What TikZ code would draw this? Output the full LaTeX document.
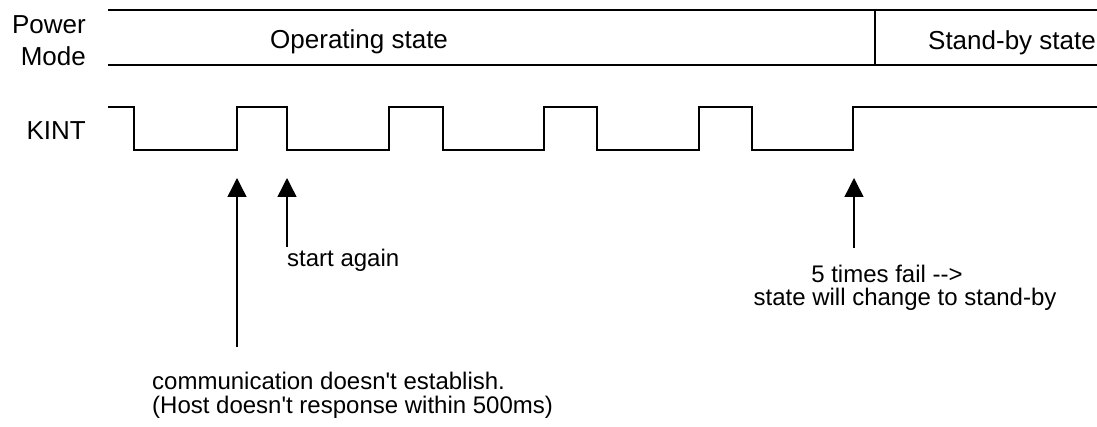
\documentclass[tikz,border=0pt]{standalone}
\usepackage{fontspec}
\setmainfont{Liberation Sans}[Ligatures=TeXOff]
\usetikzlibrary{arrows.meta}

\begin{document}
\begin{tikzpicture}[x=1pt, y=-1pt,
		lbl/.style={font=\fontsize{24}{24}\selectfont, inner sep=0pt},
		biglbl/.style={font=\fontsize{26}{32}\selectfont, inner sep=0pt},
		modeline/.style={line width=1.6pt},
		wave/.style={line width=1.4pt},
		evt/.style={line width=1.4pt, -{Triangle[width=19pt, length=19pt]}}]
					%%% Area
					\useasboundingbox (0,0) rectangle (1097,427);
					
					%%% Power mode
					\draw[modeline] (108,10) -- (1097,10);
					\draw[modeline] (108,65) -- (1097,65);
					\draw[modeline] (875,10) -- (875,65);	% cambio di stato
					\node[biglbl, align=right, anchor=east] (pm) at (86,41) {Power\\Mode};
					\node[biglbl, anchor=base west] (op) at (270,49) {Operating state};
					\node[biglbl, anchor=base east] (sb) at (1096,50) {Stand-by state};
					
					%%% KINT
					\node[biglbl, anchor=base east] (kint) at (86,140) {KINT};
					\draw[wave] (108,107) -- (134,107) -- (134,150)
						-- (237,150) -- (237,107) -- (287,107) -- (287,150)
						-- (389,150) -- (389,107) -- (443,107) -- (443,150)
						-- (544,150) -- (544,107) -- (597,107) -- (597,150)
						-- (699,150) -- (699,107) -- (752,107) -- (752,150)
						-- (853,150) -- (853,107) -- (1097,107);
					
					%%% Eventi
					\coordinate (tip1) at (237,178);
					\coordinate (tail1) at (237,347);
					\coordinate (tip2) at (287,178);
					\coordinate (tail2) at (287,247);
					\coordinate (tip3) at (854,178);
					\coordinate (tail3) at (854,248);
					\draw[evt] (tail1) -- (tip1);
					\draw[evt] (tail2) -- (tip2);
					\draw[evt] (tail3) -- (tip3);
					
					\node[lbl, anchor=base west] (again) at (287,267) {start again};
					\node[lbl, anchor=base] (fail) at (887,283) {5 times fail -->};
					\node[lbl, anchor=base] (change) at (905,306) {state will change to stand-by};
					\node[lbl, align=left, anchor=north west] (comm) at (152,372) {communication doesn't establish.\\(Host doesn't response within 500ms)};
				\end{tikzpicture}
\end{document}
